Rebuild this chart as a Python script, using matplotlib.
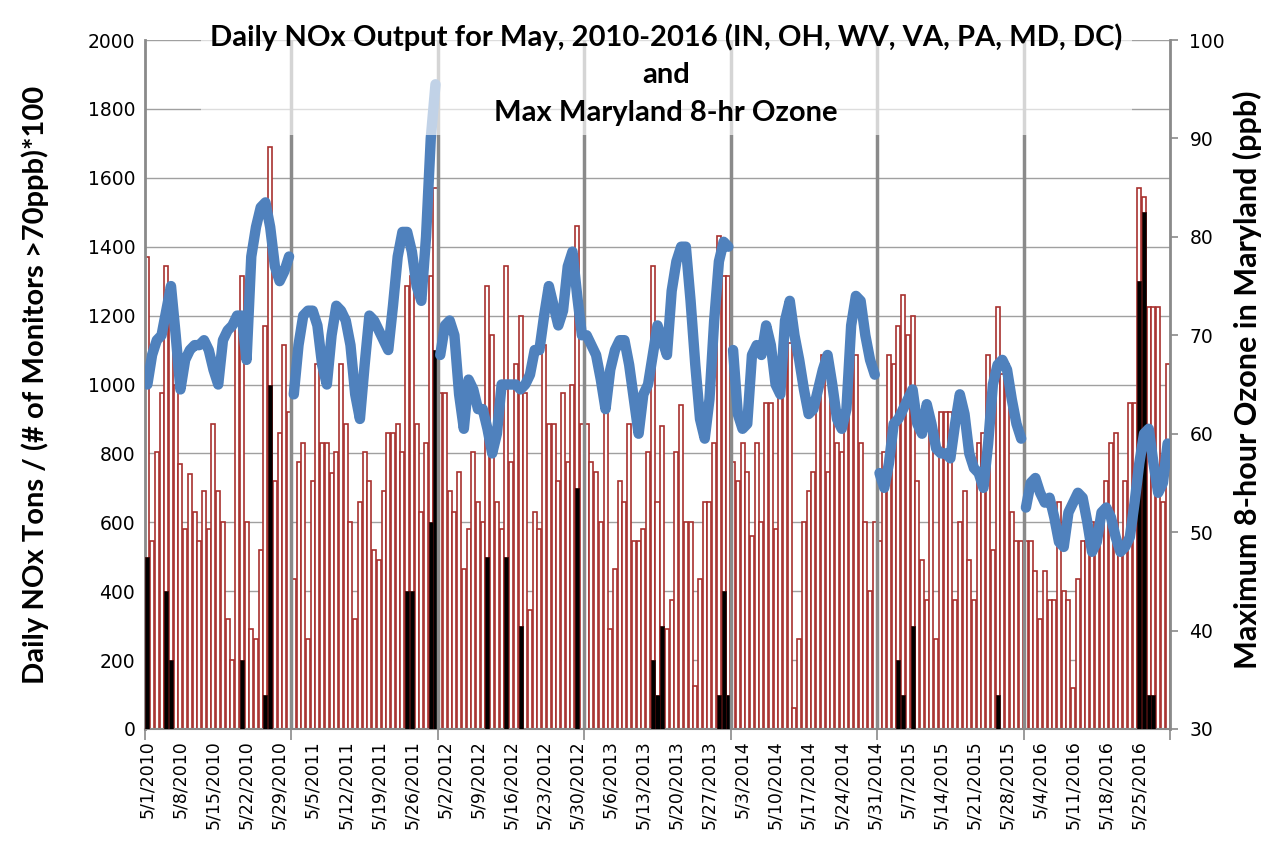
import numpy as np
import matplotlib
matplotlib.use("Agg")
import matplotlib.pyplot as plt
from matplotlib.patches import Rectangle

years = [2010, 2011, 2012, 2013, 2014, 2015, 2016]

# Daily NOx tons, May 1-31 of each year
nox_2010 = [1370, 545, 805, 975, 1345, 1290, 1000, 770, 580, 740, 630, 545, 690, 580, 885, 690,
            600, 320, 200, 1175, 1315, 600, 290, 260, 520, 1170, 1690, 720, 860, 1115, 920]
nox_2011 = [435, 775, 830, 260, 720, 1060, 830, 830, 743, 805, 1060, 885, 600, 320, 660, 805,
            720, 520, 490, 690, 860, 860, 885, 805, 1285, 1315, 885, 630, 830, 1315, 1570]
nox_2012 = [975, 975, 690, 630, 745, 465, 580, 805, 660, 600, 1285, 1145, 660, 580, 1345, 775,
            1060, 1200, 975, 345, 630, 580, 1115, 885, 885, 720, 975, 775, 1000, 1460, 885]
nox_2013 = [885, 775, 745, 600, 920, 290, 465, 720, 660, 885, 545, 545, 580, 805, 1345, 660,
            880, 290, 375, 805, 940, 600, 600, 125, 435, 660, 660, 830, 1430, 1315, 1315]
nox_2014 = [775, 720, 830, 745, 560, 830, 600, 945, 945, 580, 1000, 1085, 1120, 60, 260, 600,
            690, 745, 1000, 1085, 745, 1030, 830, 805, 940, 1085, 1085, 830, 600, 400, 600]
nox_2015 = [545, 805, 1085, 1060, 1170, 1260, 1145, 1200, 720, 490, 375, 860, 260, 920, 920, 920,
            375, 600, 690, 490, 375, 830, 860, 1085, 520, 1225, 1030, 1060, 630, 545, 545]
nox_2016 = [545, 545, 460, 320, 460, 375, 375, 660, 400, 375, 120, 435, 545, 545, 600, 545,
            580, 720, 830, 860, 540, 720, 945, 945, 1570, 1545, 1225, 1225, 1225, 660, 1060]

# (# of monitors > 70 ppb) * 100, as {day index: value}
mon_2010 = {0: 500, 4: 400, 5: 200, 20: 200, 25: 100, 26: 1000}
mon_2011 = {24: 400, 25: 400, 29: 600, 30: 1100}
mon_2012 = {10: 500, 14: 500, 17: 300, 29: 700}
mon_2013 = {14: 200, 15: 100, 16: 300, 28: 100, 29: 400, 30: 100}
mon_2014 = {}
mon_2015 = {4: 200, 5: 100, 7: 300, 25: 100}
mon_2016 = {24: 1300, 25: 1500, 26: 100, 27: 100}

# Max Maryland 8-hr ozone (ppb)
oz_2010 = [65, 68, 69.5, 70, 72.5, 75, 70, 64.5, 67.5, 68.5, 69, 69, 69.5, 68.5, 66.5, 65,
           69.5, 70.5, 71, 72, 72, 67.5, 78, 81, 83, 83.5, 81, 77, 75.5, 76.5, 78]
oz_2011 = [64, 69, 72, 72.5, 72.5, 71, 67, 65, 70, 73, 72.5, 71.5, 69, 64, 61.5, 67,
           72, 71.5, 70.5, 69.5, 68.5, 73, 78, 80.5, 80.5, 78.5, 75, 73.5, 80, 90, 95.5]
oz_2012 = [68, 71, 71.5, 70, 64, 60.5, 65.5, 64.5, 62.5, 62.5, 60.5, 58, 60, 65, 65, 65,
           65, 64.5, 65, 66, 68.5, 68.5, 72, 75, 73, 71, 72.5, 77, 78.5, 74, 70]
oz_2013 = [70, 69, 68, 65.5, 62.5, 66.5, 68.5, 69.5, 69.5, 67, 63.5, 60, 64, 65, 68, 71,
           69.5, 68, 74.5, 77.5, 79, 79, 73.5, 67, 61.5, 59.5, 63.5, 71.5, 77.5, 79.5, 79]
oz_2014 = [68.5, 62, 60.5, 61, 68, 69, 68, 71, 69, 65, 64, 71.5, 73.5, 70, 67.5, 64.5,
           62, 62.5, 64.5, 66.5, 68, 65, 61.5, 60.5, 62.5, 71, 74, 73.5, 70, 67.5, 66]
oz_2015 = [56, 54.5, 57, 61, 61.5, 62.5, 63.5, 64.5, 61, 60, 63, 61, 58.5, 58, 58, 57.5,
           61, 64, 62, 58, 56.5, 56, 54.5, 59, 65, 67, 67.5, 66.5, 63.5, 61, 59.5]
oz_2016 = [52.5, 55, 55.5, 54, 53, 53.5, 51.5, 49, 48.5, 52, 53, 54, 53.5, 51, 48, 49,
           52, 52.5, 51.5, 49.5, 48, 48.5, 49.5, 53, 57, 60, 60.5, 57, 54, 55, 59]

nox_years = [nox_2010, nox_2011, nox_2012, nox_2013, nox_2014, nox_2015, nox_2016]
mon_years = [mon_2010, mon_2011, mon_2012, mon_2013, mon_2014, mon_2015, mon_2016]
oz_years = [oz_2010, oz_2011, oz_2012, oz_2013, oz_2014, oz_2015, oz_2016]

dates = [f"5/{d}/{y}" for y in years for d in range(1, 32)]
nox = sum(nox_years, [])
monitors = []
for m in mon_years:
    monitors += [m.get(d, 0) for d in range(31)]
x = np.arange(len(dates))

RED = '#a8312f'
BLUE = '#4f81bd'
GRAY = '#8a8a8a'

fig = plt.figure(figsize=(12.69, 8.5), dpi=100)
ax = fig.add_axes([145 / 1269, 1 - 729 / 850, 1025 / 1269, 689 / 850])

ax.bar(x, nox, width=0.85, color='white', edgecolor=RED, linewidth=1.2, zorder=2)
ax.bar(x, monitors, width=0.85, color='black', edgecolor='#3a0a0a', linewidth=0.6, zorder=3)

ax.set_xlim(-0.5, len(dates) - 0.5)
ax.set_ylim(0, 2000)
ax.set_yticks(range(0, 2001, 200))
ax.yaxis.grid(True, color='#a0a0a0', lw=1)
ax.set_axisbelow(True)

# year separators
for k in range(1, len(years)):
    ax.axvline(31 * k - 0.5, color=GRAY, lw=2.5, zorder=4)

# x ticks: marks at year boundaries, labels every 7 days
ax.set_xticks([31 * k - 0.5 for k in range(len(years) + 1)])
ax.set_xticklabels([])
ax.tick_params(axis='x', which='major', length=8, width=1.2, color=GRAY)
ax.set_xticks(x[::7], minor=True)
ax.set_xticklabels(dates[::7], minor=True, rotation=90, fontsize=12.5)
ax.tick_params(axis='x', which='minor', length=0, pad=8)
ax.tick_params(axis='y', length=0, labelsize=13.5, pad=7)

for s in ['top', 'right']:
    ax.spines[s].set_visible(False)
ax.spines['left'].set_color(GRAY)
ax.spines['left'].set_linewidth(2)
ax.spines['bottom'].set_color(GRAY)
ax.spines['bottom'].set_linewidth(1.5)

ax2 = ax.twinx()
ax2.set_ylim(30, 100)
ax2.set_yticks(range(30, 101, 10))
for i, oz in enumerate(oz_years):
    ax2.plot(x[31 * i:31 * i + 31], oz, color=BLUE, lw=7.5,
             solid_joinstyle='round', solid_capstyle='round', zorder=5)
for s in ['top', 'left', 'bottom']:
    ax2.spines[s].set_visible(False)
ax2.spines['right'].set_color(GRAY)
ax2.spines['right'].set_linewidth(2)
ax2.tick_params(axis='y', length=6, width=1.2, color=GRAY, labelsize=13.5, pad=8)

# semi-transparent title box
ax2.add_patch(Rectangle((11.4, 0.862), 197, 0.16, transform=ax2.get_xaxis_transform(),
                        facecolor='white', edgecolor='none', alpha=0.65, zorder=10, clip_on=False))

tfont = dict(family='Lato', fontweight='bold', fontsize=21, ha='center', va='center')
fig.text(666 / 1269, 1 - 37 / 850, 'Daily NOx Output for May, 2010-2016 (IN, OH, WV, VA, PA, MD, DC)', **tfont)
fig.text(666 / 1269, 1 - 75 / 850, 'and', **tfont)
fig.text(666 / 1269, 1 - 113 / 850, 'Max Maryland 8-hr Ozone', **tfont)

fig.text(35 / 1269, 1 - 385 / 850, 'Daily NOx Tons / (# of Monitors >70ppb)*100', rotation=90,
         family='Lato', fontweight='bold', fontsize=21, ha='center', va='center')
fig.text(1247 / 1269, 1 - 380 / 850, 'Maximum 8-hour Ozone in Maryland (ppb)', rotation=90,
         family='Lato', fontweight='bold', fontsize=22, ha='center', va='center')

fig.savefig('out.png', dpi=100)
